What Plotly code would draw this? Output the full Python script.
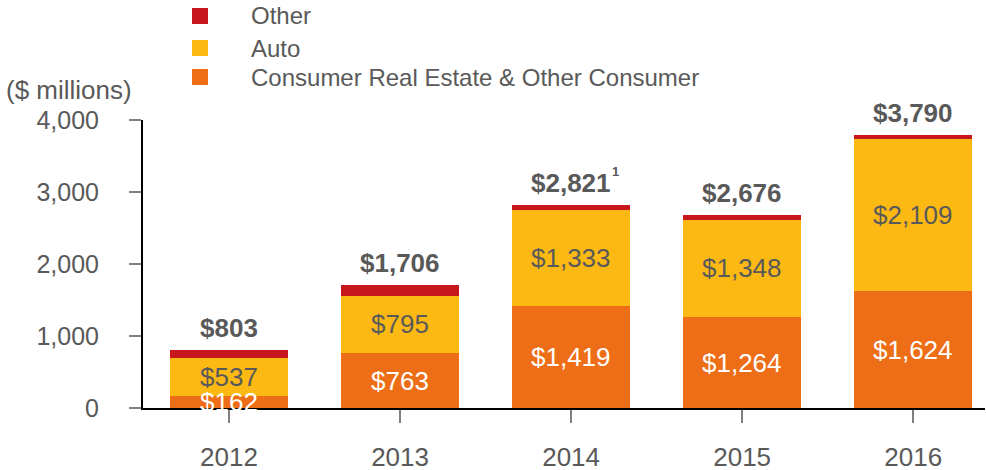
import plotly.graph_objects as go

years = ["2012", "2013", "2014", "2015", "2016"]
consumer = [162, 763, 1419, 1264, 1624]
auto = [537, 795, 1333, 1348, 2109]
other = [104, 148, 69, 64, 57]
totals = [803, 1706, 2821, 2676, 3790]
total_notes = ["", "", "1", "", ""]
legend_names = ["Other", "Auto", "Consumer Real Estate & Other Consumer"]

C_OTHER = "#C8161D"
C_AUTO = "#FDB913"
C_CONS = "#EE6E17"
GRAY = "#595959"
FONT = "Liberation Sans, Arial, sans-serif"

W, H = 986, 470
ML, MR, MT, MB = 143, 1, 120, 62
PW, PH = W - ML - MR, H - MT - MB


def px_x(p):
    return (p - ML) / PW


def px_y(p):
    return (H - MB - p) / PH


fig = go.Figure()
fig.add_bar(x=years, y=consumer, name=legend_names[2],
            marker=dict(color=C_CONS, line=dict(width=0)), width=0.69)
fig.add_bar(x=years, y=auto, name=legend_names[1],
            marker=dict(color=C_AUTO, line=dict(width=0)), width=0.69)
fig.add_bar(x=years, y=other, name=legend_names[0],
            marker=dict(color=C_OTHER, line=dict(width=0)), width=0.69)

ann = []
for i, yr in enumerate(years):
    ann.append(dict(x=i, y=consumer[i] / 2, text=f"${consumer[i]:,}", showarrow=False,
                    font=dict(size=26, color="white", family=FONT), xref="x", yref="y"))
    ann.append(dict(x=i, y=consumer[i] + auto[i] / 2, text=f"${auto[i]:,}", showarrow=False,
                    font=dict(size=26, color=GRAY, family=FONT), xref="x", yref="y"))
    ann.append(dict(x=i, y=totals[i], text=f"<b>${totals[i]:,}</b>", showarrow=False,
                    yanchor="middle", yshift=22,
                    font=dict(size=26, color=GRAY, family=FONT), xref="x", yref="y"))
    if total_notes[i]:
        ann.append(dict(x=i, y=totals[i], text=f"<b>{total_notes[i]}</b>", showarrow=False,
                        xanchor="left", yanchor="middle", yshift=33, xshift=39,
                        font=dict(size=13, color=GRAY, family=FONT), xref="x", yref="y"))

ann.append(dict(x=px_x(4), y=px_y(90), xref="paper", yref="paper",
                xanchor="left", yanchor="middle", text="($ millions)", showarrow=False,
                font=dict(size=26, color=GRAY, family=FONT)))

# legend (drawn as squares + labels above the plot)
shapes = []
leg_colors = [C_OTHER, C_AUTO, C_CONS]
leg_y = [16, 48, 77]
for name, col, yc in zip(legend_names, leg_colors, leg_y):
    shapes.append(dict(type="rect", xref="paper", yref="paper",
                       x0=px_x(192), x1=px_x(208), y0=px_y(yc + 8), y1=px_y(yc - 8),
                       fillcolor=col, line=dict(width=0)))
    ann.append(dict(x=px_x(249), y=px_y(yc), xref="paper", yref="paper",
                    xanchor="left", yanchor="middle", text=name, showarrow=False,
                    font=dict(size=24, color=GRAY, family=FONT)))

fig.update_layout(
    barmode="stack",
    width=W, height=H,
    margin=dict(l=ML, r=MR, t=MT, b=MB, autoexpand=False),
    plot_bgcolor="white", paper_bgcolor="white",
    font=dict(family=FONT, color=GRAY, size=21),
    showlegend=False,
    xaxis=dict(type="category", range=[-0.503, 4.42], showline=True, linecolor="black",
               linewidth=2, ticks="outside", ticklen=13, tickcolor="#7f7f7f", tickwidth=1.5,
               tickfont=dict(size=26, color=GRAY), ticklabelstandoff=12, showgrid=False,
               zeroline=False),
    yaxis=dict(range=[0, 4000], tickvals=[0, 1000, 2000, 3000, 4000], tickformat=",",
               showline=True, linecolor="black", linewidth=2, ticks="outside", ticklen=12,
               tickcolor="#7f7f7f", tickwidth=1.5, tickfont=dict(size=25, color=GRAY),
               ticklabelstandoff=25, showgrid=False, zeroline=False),
    annotations=ann,
    shapes=shapes,
)

fig.write_html("out.html", config={"displayModeBar": False},
               post_script="document.body.style.margin='0';")
